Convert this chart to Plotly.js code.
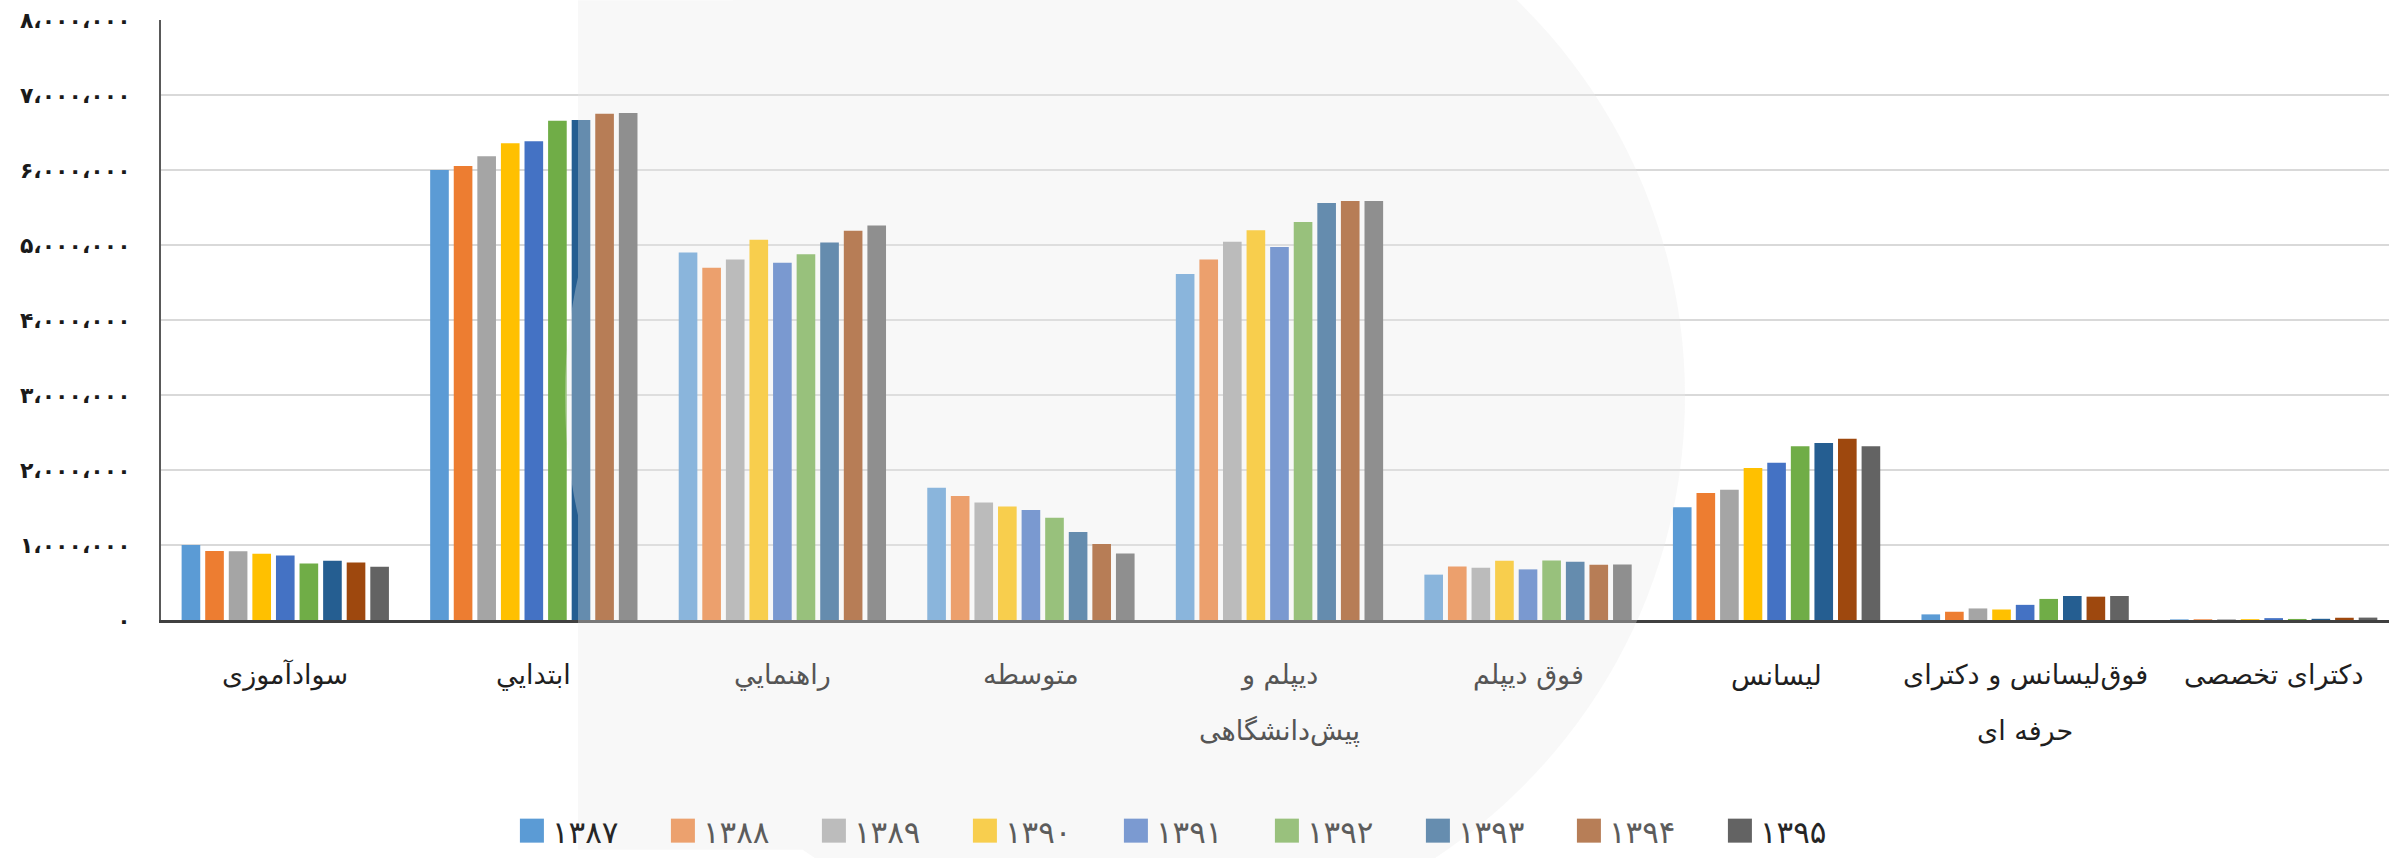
<!DOCTYPE html>
<html>
<head>
<meta charset="utf-8">
<script src="https://cdn.plot.ly/plotly-3.0.1.min.js"></script>
<style>
html,body{margin:0;padding:0;background:#fff;}
#chart{width:2389px;height:858px;}
.legend .legendtext{letter-spacing:4px;}
</style>
</head>
<body>
<div id="chart"></div>
<script>
// ---- data ----
const categories = ['سوادآموزی','ابتدايي','راهنمايي','متوسطه','دیپلم و\nپیش‌دانشگاهی','فوق دیپلم','لیسانس','فوق‌لیسانس و دکترای\nحرفه ای','دکترای تخصصی'];
const years = ['۱۳۸۷','۱۳۸۸','۱۳۸۹','۱۳۹۰','۱۳۹۱','۱۳۹۲','۱۳۹۳','۱۳۹۴','۱۳۹۵'];
const s1387 = [1000000, 6000000, 4900000, 1765000, 4615000, 605000, 1505000,  75000,  8000];
const s1388 = [ 921000, 6055000, 4697000, 1655000, 4807000, 714000, 1693000, 110000,  9000];
const s1389 = [ 917000, 6182000, 4807000, 1567000, 5044000, 697000, 1737000, 154000, 10000];
const s1390 = [ 884000, 6356000, 5070000, 1514000, 5197000, 789000, 2026000, 140000, 11000];
const s1391 = [ 860000, 6385000, 4763000, 1466000, 4974000, 675000, 2096000, 202000, 25000];
const s1392 = [ 752000, 6657000, 4877000, 1365000, 5307000, 793000, 2316000, 281000, 14000];
const s1393 = [ 790000, 6667000, 5035000, 1172000, 5561000, 776000, 2360000, 320000, 16000];
const s1394 = [ 766000, 6751000, 5189000, 1014000, 5587000, 736000, 2417000, 311000, 30000];
const s1395 = [ 710000, 6761000, 5259000,  887000, 5587000, 741000, 2316000, 320000, 32000];
const seriesValues = [s1387, s1388, s1389, s1390, s1391, s1392, s1393, s1394, s1395];
const yTickVals = [0,1000000,2000000,3000000,4000000,5000000,6000000,7000000,8000000];
const yTickText = ['۰','۱،۰۰۰،۰۰۰','۲،۰۰۰،۰۰۰','۳،۰۰۰،۰۰۰','۴،۰۰۰،۰۰۰','۵،۰۰۰،۰۰۰','۶،۰۰۰،۰۰۰','۷،۰۰۰،۰۰۰','۸،۰۰۰،۰۰۰'];

// ---- style ----
const colors = ['#5B9BD5','#ED7D31','#A5A5A5','#FFC000','#4472C4','#70AD47','#255E91','#9E480E','#636363'];
const labelColors = ['#1f1f1f','#1f1f1f','#555555','#555555','#555555','#555555','#1f1f1f','#1f1f1f','#1f1f1f'];
const legendInWatermark = [false,true,true,true,true,true,true,true,false];
const FONT = 'DejaVu Sans, Noto Sans, sans-serif';
const WM_RGB = [235,235,235], WM_ALPHA = 0.33;
const catIdx = categories.map((c,i)=>i);

const traces = years.map((y,i)=>({
  type:'bar', name:y, x:catIdx, y:seriesValues[i],
  marker:{color:colors[i], line:{width:0}},
  hoverinfo:'skip'
}));

const annotations = [];
categories.forEach((c,i)=>{
  c.split('\n').forEach((line,j)=>{
    annotations.push({
      x:i, xref:'x', y:0, yref:'paper', yanchor:'middle', xanchor:'center',
      yshift:-(55+56*j), showarrow:false, text:line,
      font:{family:FONT, size:27, color:labelColors[i]}
    });
  });
});

// faint background watermark (decoration), pixel geometry -> paper coords
const ML = 161, MT = 20, PW = 2228, PH = 606;
const px = X => ((X-ML)/PW).toFixed(5);
const py = Y => ((MT+PH-Y)/PH).toFixed(5);
function circlePath(cx, cy, r){
  const k = 0.5523*r;
  const P = (x,y)=>px(x)+','+py(y);
  return 'M'+P(cx+r,cy)+
    ' C'+P(cx+r,cy+k)+' '+P(cx+k,cy+r)+' '+P(cx,cy+r)+
    ' C'+P(cx-k,cy+r)+' '+P(cx-r,cy+k)+' '+P(cx-r,cy)+
    ' C'+P(cx-r,cy-k)+' '+P(cx-k,cy-r)+' '+P(cx,cy-r)+
    ' C'+P(cx+k,cy-r)+' '+P(cx+r,cy-k)+' '+P(cx+r,cy)+' Z';
}
function rectPath(x0,y0,x1,y1){
  return ' M'+px(x0)+','+py(y0)+' L'+px(x1)+','+py(y0)+' L'+px(x1)+','+py(y1)+' L'+px(x0)+','+py(y1)+' Z';
}
const wmPath = circlePath(1125, 400, 560) + rectPath(578, 0, 1125, 858);

function blend(hex){
  const n = parseInt(hex.slice(1),16);
  const c = [(n>>16)&255,(n>>8)&255,n&255].map((v,k)=>Math.round(v*(1-WM_ALPHA)+WM_RGB[k]*WM_ALPHA));
  return 'rgb('+c.join(',')+')';
}

const layout = {
  width:2389, height:858,
  margin:{l:ML, r:0, t:MT, b:232, pad:0},
  paper_bgcolor:'#ffffff', plot_bgcolor:'#ffffff',
  barmode:'group', bargap:0.146, bargroupgap:0.21,
  showlegend:true,
  legend:{orientation:'h', x:0.1575, xanchor:'left', y:-0.352, yanchor:'middle',
    font:{family:FONT, size:31, color:'#262626'}, itemwidth:30,
    entrywidth:106, entrywidthmode:'pixels', traceorder:'normal',
    bgcolor:'rgba(0,0,0,0)', borderwidth:0},
  xaxis:{type:'linear', range:[-0.5, 8.464], showticklabels:false, ticks:'',
    showgrid:false, zeroline:false, showline:true, linecolor:'#404040', linewidth:3},
  yaxis:{range:[0,8000000], tickvals:yTickVals, ticktext:yTickText,
    ticks:'', ticklabelstandoff:24,
    tickfont:{family:FONT, size:22, color:'#1a1a1a', weight:'bold'},
    showgrid:true, gridcolor:'#d9d9d9', gridwidth:2, zeroline:false,
    showline:true, linecolor:'#595959', linewidth:2},
  shapes:[{type:'path', xref:'paper', yref:'paper', layer:'above', path:wmPath,
    fillcolor:'rgb('+WM_RGB.join(',')+')', opacity:WM_ALPHA, fillrule:'nonzero', line:{width:0}}],
  annotations:annotations
};

Plotly.newPlot('chart', traces, layout, {displayModeBar:false, staticPlot:true}).then(()=>{
  document.querySelectorAll('.legend .traces').forEach((g,i)=>{
    g.querySelectorAll('.legendpoints path').forEach(p=>{
      const t = p.getAttribute('transform') || '';
      p.setAttribute('transform', t + ' scale(2)');
      if(legendInWatermark[i]) p.style.fill = blend(colors[i]);
    });
    if(legendInWatermark[i]){
      const tx = g.querySelector('.legendtext');
      if(tx) tx.style.fill = '#5c5c5c';
    }
  });
});
</script>
</body>
</html>
